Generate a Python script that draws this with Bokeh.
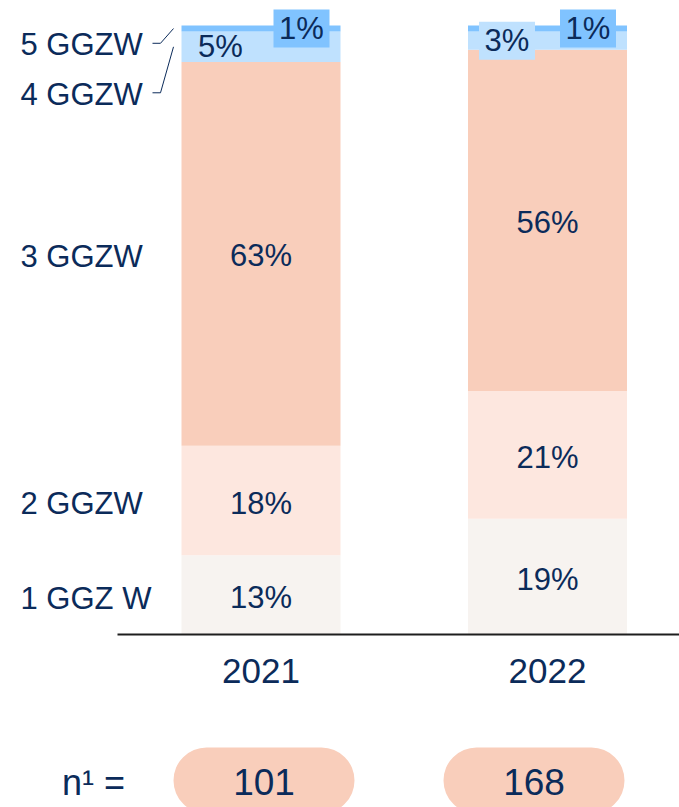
import numpy as np
from bokeh.plotting import figure
from bokeh.models import ColumnDataSource, Range1d, BoxAnnotation
from bokeh.core.properties import value
from bokeh.embed import file_html
from bokeh.resources import INLINE

# ---- data ----
years = ["2021", "2022"]
categories = ["1 GGZ W", "2 GGZW", "3 GGZW", "4 GGZW", "5 GGZW"]
share_1 = [13, 19]
share_2 = [18, 21]
share_3 = [63, 56]
share_4 = [5, 3]
share_5 = [1, 1]
n_values = [101, 168]

# ---- style ----
colors = ["#f7f3f0", "#fde7df", "#f9cebb", "#bfe1fe", "#80c3ff"]
navy = "#0b2b5a"
FONT = "Liberation Sans"

W, H = 679, 807
# layout scale helpers (pixels per data unit)
PX_X = 286.5
PX_Y = 6.09
X0 = 260.5   # pixel position of first category
Y0 = 634.0   # pixel position of zero line


def px_x(v):
    return (v - X0) / PX_X


def px_y(v):
    return (Y0 - v) / PX_Y


xs = np.arange(len(years), dtype=float)
bar_w = 159 / PX_X

p = figure(width=W, height=H, output_backend="svg", toolbar_location=None,
           x_range=Range1d(px_x(0), px_x(W)),
           y_range=Range1d(px_y(H), px_y(0)),
           x_axis_type=None, y_axis_type=None, min_border=0)
p.outline_line_color = None
p.grid.visible = False
p.background_fill_color = "white"
p.border_fill_color = "white"

stack_names = ["s1", "s2", "s3", "s4", "s5"]
series = [share_1, share_2, share_3, share_4, share_5]
src = ColumnDataSource(dict(x=xs, **{k: v for k, v in zip(stack_names, series)}))
p.vbar_stack(stack_names, x="x", width=bar_w, color=colors, line_color=None, source=src)

# segment midpoints
arr = np.array(series, dtype=float)          # shape (5, 2)
tops = np.cumsum(arr, axis=0)
mids = tops - arr / 2

# in-bar percentage labels
lab_x, lab_y, lab_t, lab_off, box_x, box_y, box_c = [], [], [], [], [], [], []
offs = [0, 0, 0, -40.5 / PX_X, 40.5 / PX_X]
yoffs = [3, 3, 2, 0, 0]
for i in range(5):
    for j in range(len(years)):
        lx = xs[j] + offs[i]
        lab_x.append(lx)
        lab_y.append(mids[i, j])
        lab_t.append(f"{int(arr[i, j])}%")
        lab_off.append(yoffs[i])
        if arr[i, j] < 4:
            box_x.append(lx)
            box_y.append(mids[i, j])
            box_c.append(colors[i])

p.rect(x=box_x, y=box_y, width=56, height=38, width_units="screen", height_units="screen",
       fill_color=box_c, line_color=None)
lab_src = ColumnDataSource(dict(x=lab_x, y=lab_y, t=lab_t, off=lab_off))
p.text(x="x", y="y", text="t", y_offset="off", source=lab_src, text_font=value(FONT),
       text_font_size="31px", text_color=navy, text_align="center", text_baseline="middle")

# category labels on the left
label_x = px_x(20)
cat_y = [mids[0, 0], mids[1, 0], mids[2, 0], px_y(93.5), px_y(44)]
cat_src = ColumnDataSource(dict(x=[label_x] * 5, y=cat_y, t=categories, off=[4, 3, 3, 0, 0]))
p.text(x="x", y="y", text="t", y_offset="off", source=cat_src, text_font=value(FONT),
       text_font_size="31px", text_color=navy, text_align="left", text_baseline="middle")

# leader lines for the small segments
bar_left = xs[0] - bar_w / 2
lead_xs, lead_ys = [], []
for i in (3, 4):
    lead_xs.append([px_x(152), px_x(160), bar_left - 8 / PX_X])
    lead_ys.append([cat_y[i] + 0.2, cat_y[i] + 0.2, mids[i, 0]])
p.multi_line(xs=lead_xs, ys=lead_ys, line_color=navy, line_width=1)

# baseline
p.segment(x0=[px_x(117)], y0=[0], x1=[px_x(W + 5)], y1=[0], line_color="#1e1e1e", line_width=2)

# year labels
p.text(x=xs, y=[px_y(670.5)] * 2, text=years, text_font=value(FONT), text_font_size="35px",
       text_color=navy, text_align="center", text_baseline="middle")

# n row
pill_x = [xs[0] + 3 / PX_X, xs[1] - 13.5 / PX_X]
half_w = 90.5 / PX_X
for pxc in pill_x:
    p.add_layout(BoxAnnotation(left=pxc - half_w, right=pxc + half_w,
                               top=px_y(747), bottom=px_y(813),
                               fill_color=colors[2], fill_alpha=1.0, line_color=None,
                               border_radius=33, level="underlay"))
p.text(x=pill_x, y=[px_y(781)] * 2, text=[str(v) for v in n_values], text_font=value(FONT),
       text_font_size="37px", text_color=navy, text_align="center", text_baseline="middle")
p.text(x=[px_x(93)], y=[px_y(782)], text=["n\u00b9 ="], text_font=value(FONT),
       text_font_size="36px", text_color=navy, text_align="center", text_baseline="middle")

open("out.html", "w").write(file_html(p, INLINE))
